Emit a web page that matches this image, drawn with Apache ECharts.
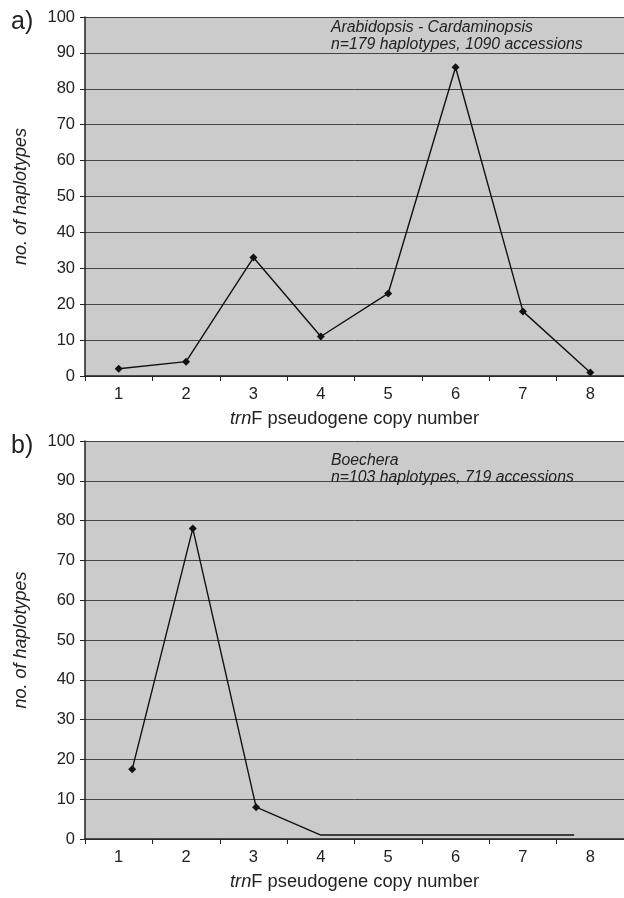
<!DOCTYPE html>
<html><head><meta charset="utf-8">
<script src="https://cdn.jsdelivr.net/npm/echarts@6/dist/echarts.min.js"></script>
<style>html,body{margin:0;padding:0;background:#fff}#c{width:624px;height:898px}</style>
</head><body><div id="c"></div>
<script>
const categories = ['1','2','3','4','5','6','7','8'];
const yTicks = [0,10,20,30,40,50,60,70,80,90,100];
// panel a: Arabidopsis - Cardaminopsis
const valuesA = [2, 4, 33, 11, 23, 86, 18, 1];
// panel b: Boechera (points drawn at slightly offset x positions in the original)
const xB = [1.2, 2.1, 3.04, 4.0, 7.76];
const valuesB = [17.5, 78, 8, 1, 1];
const markedB = [true, true, true, false, false];

const chart = echarts.init(document.getElementById('c'));
const font = 'Liberation Sans, Arial, sans-serif';
const grids = [
  {left: 85, right: 0, top: 17, height: 359, backgroundColor: '#cbcbcb', show: true, borderWidth: 0},
  {left: 85, right: 0, top: 441, height: 398, backgroundColor: '#cbcbcb', show: true, borderWidth: 0}
];
function catAxis(gi){
  return {type:'category', gridIndex: gi, data: categories, boundaryGap: true,
    axisLine:{show:true, lineStyle:{color:'#222', width:1.5}},
    axisTick:{show:true, inside:false, length:5, lineStyle:{color:'#222'}},
    axisLabel:{color:'#222', fontSize:16.5, fontFamily:font, margin:10},
    name:'{i|trn}F pseudogene copy number', nameLocation:'middle', nameGap: 34,
    nameTextStyle:{color:'#222', fontSize:18.3, fontFamily:font, rich:{i:{fontStyle:'italic', fontSize:18.3, fontFamily:font, color:'#222'}}}
  };
}
function valAxis(gi){
  return {type:'value', gridIndex: gi, min:yTicks[0], max:yTicks[yTicks.length-1], interval:yTicks[1]-yTicks[0],
    axisLine:{show:true, lineStyle:{color:'#222', width:1.5}},
    axisTick:{show:true, inside:false, length:5, lineStyle:{color:'#222'}},
    axisLabel:{color:'#222', fontSize:16.5, fontFamily:font, margin:10},
    splitLine:{show:true, lineStyle:{color:'#444', width:1}},
    name:'no. of haplotypes', nameLocation:'middle', nameGap:55, nameRotate:90,
    nameTextStyle:{color:'#222', fontSize:18, fontStyle:'italic', fontFamily:font}
  };
}
const option = {
  animation:false,
  grid: grids,
  xAxis: [catAxis(0), catAxis(1),
    {type:'value', gridIndex:1, min:0.5, max:8.5, show:false}],
  yAxis: [valAxis(0), valAxis(1)],
  title: [
    {text:'a)', left:6, top:5, textStyle:{fontSize:25, fontWeight:'normal', color:'#222', fontFamily:font}},
    {text:'b)', left:6, top:429, textStyle:{fontSize:25, fontWeight:'normal', color:'#222', fontFamily:font}},
    {text:'Arabidopsis - Cardaminopsis\nn=179 haplotypes, 1090 accessions', left:326, top:14,
      textStyle:{fontSize:15.8, fontStyle:'italic', fontWeight:'normal', color:'#222', fontFamily:font, lineHeight:17}},
    {text:'Boechera\nn=103 haplotypes, 719 accessions', left:326, top:447,
      textStyle:{fontSize:15.8, fontStyle:'italic', fontWeight:'normal', color:'#222', fontFamily:font, lineHeight:17}}
  ],
  series: [
    {type:'line', xAxisIndex:0, yAxisIndex:0, data: valuesA, symbol:'diamond', symbolSize:8,
      lineStyle:{color:'#111', width:1.4}, itemStyle:{color:'#111'}},
    {type:'line', xAxisIndex:2, yAxisIndex:1,
      data: xB.map((x,i)=>({value:[x, valuesB[i]], symbol: markedB[i] ? 'diamond' : 'none'})),
      symbol:'diamond', symbolSize:8, showAllSymbol:true,
      lineStyle:{color:'#111', width:1.4}, itemStyle:{color:'#111'}}
  ]
};
chart.setOption(option);
</script></body></html>
